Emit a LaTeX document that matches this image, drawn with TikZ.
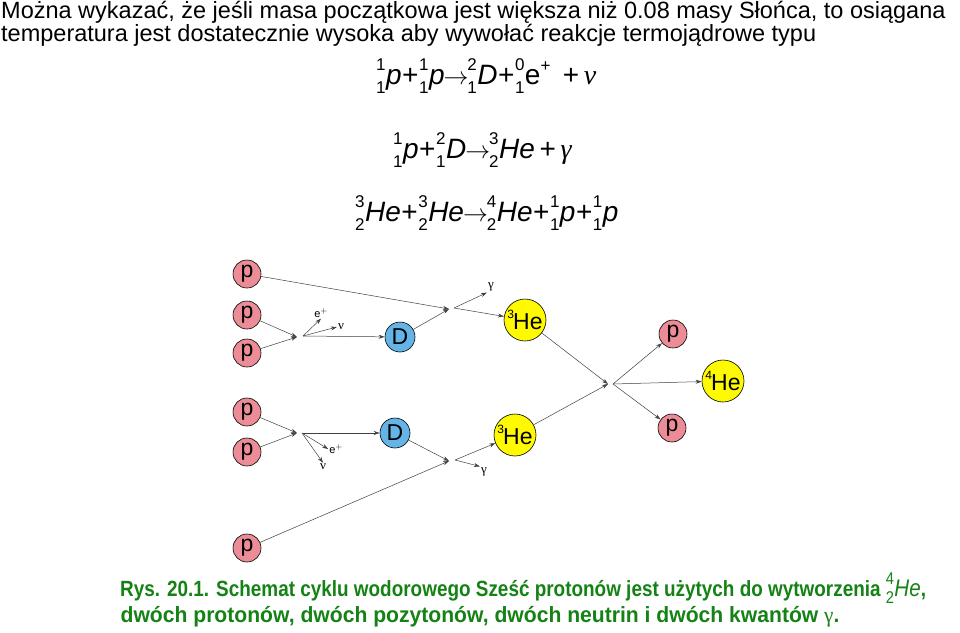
\documentclass[tikz,border=0pt]{standalone}
\usepackage{fontspec}
\setmainfont{Liberation Sans}
\newfontfamily\grk{Liberation Serif}
\usetikzlibrary{arrows.meta}
\definecolor{pc}{RGB}{236,140,150}
\definecolor{dc}{RGB}{100,180,232}
\definecolor{hc}{RGB}{255,250,0}
\definecolor{capc}{RGB}{20,130,20}
\newcommand\sm[1]{{\fontsize{17}{17}\selectfont #1}}
\newcommand\nuc[3]{\mbox{\rlap{\raisebox{0.5em}{\sm{#1}}}\raisebox{-0.32em}{\sm{#2}}}\kern0.5pt\textit{#3}}
\newcommand\pl{\kern0.5pt+\kern0.5pt}
\newcommand\arr{\kern-1pt$\rightarrow$\kern-1pt}
\begin{document}
\begin{tikzpicture}[x=1pt,y=-1pt,
  ball/.style={circle,draw,line width=0.6pt,inner sep=0pt,font=\fontsize{23}{23}\selectfont},
  pb/.style={ball,fill=pc,minimum size=28pt},
  db/.style={ball,fill=dc,minimum size=30pt},
  hb/.style={ball,fill=hc,minimum size=42pt},
  ar/.style={draw=black!75,line width=0.5pt,-{Stealth[length=6pt,width=4pt]}},
  lab/.style={font=\fontsize{13}{13}\selectfont\grk,inner sep=1pt},
  labs/.style={font=\fontsize{11}{11}\selectfont,inner sep=1pt},
  eq/.style={font=\fontsize{28}{28}\selectfont,inner sep=0pt}]
\useasboundingbox (0,0) rectangle (960,632);
\node[anchor=north west,inner sep=0pt,align=left,font=\fontsize{23.5}{23}\selectfont] (t) at (1,1)
 {Można wykazać, że jeśli masa początkowa jest większa niż 0.08 masy Słońca, to osiągana\\temperatura jest dostatecznie wysoka aby wywołać reakcje termojądrowe typu};
\node[eq,anchor=west] (e1) at (376,76) {\nuc11p\pl\nuc11p\arr\nuc21D\pl\mbox{\rlap{\raisebox{0.5em}{\sm{0}}}\raisebox{-0.32em}{\sm{1}}}\kern0.5pt e\raisebox{0.45em}{\sm{+}} \,+\,{\grk\itshape ν}};
\node[eq,anchor=west] (e2) at (393,150) {\nuc11p\pl\nuc21D\arr\nuc32{He}\,+\,{\grk\itshape γ}};
\node[eq,anchor=west] (e3) at (355,213) {\nuc32{He}\pl\nuc32{He}\arr\nuc42{He}\pl\nuc11p\pl\nuc11p};

\node[pb] (p1) at (247,274) {p};
\node[pb] (p2) at (247,315) {p};
\node[pb] (p3) at (247,353) {p};
\node[pb] (p4) at (247,412) {p};
\node[pb] (p5) at (247,452) {p};
\node[pb] (p6) at (247,548) {p};
\node[db] (d1) at (400,337) {D};
\node[db] (d2) at (395,433) {D};
\node[hb] (h1) at (525,320) {\raisebox{0.45em}{\fontsize{12}{12}\selectfont 3}\kern-1ptHe};
\node[hb] (h2) at (515,435) {\raisebox{0.45em}{\fontsize{12}{12}\selectfont 3}\kern-1ptHe};
\node[pb] (p7) at (673,334) {p};
\node[pb] (p8) at (672,428) {p};
\node[hb] (h4) at (723,381) {\raisebox{0.45em}{\fontsize{12}{12}\selectfont 4}\kern-1ptHe};

\coordinate (a1) at (297,337); \coordinate (a1o) at (303,336);
\coordinate (a2) at (297,433); \coordinate (a2o) at (302,433);
\coordinate (b1) at (449,309); \coordinate (b1o) at (454,308);
\coordinate (b2) at (449,461); \coordinate (b2o) at (455,460);
\coordinate (c) at (608,384); \coordinate (co) at (613,384);

\node[labs] (ep1) at (321,313) {e$^{+}$};
\node[lab] (n1) at (341,327) {ν};
\node[lab] (g1) at (491,287) {γ};
\node[labs] (ep2) at (336,449) {e$^{+}$};
\node[lab] (n2) at (323,467) {ν};
\node[lab] (g2) at (484,472) {γ};

\draw[ar] (p2) -- (a1); \draw[ar] (p3) -- (a1);
\draw[ar] (a1o) -- (ep1.south); \draw[ar] (a1o) -- (n1.west); \draw[ar] (a1o) -- (d1);
\draw[ar] (p4) -- (a2); \draw[ar] (p5) -- (a2);
\draw[ar] (a2o) -- (d2); \draw[ar] (a2o) -- (ep2.west); \draw[ar] (a2o) -- (n2.north);
\draw[ar] (p1) -- (b1); \draw[ar] (d1) -- (b1);
\draw[ar] (b1o) -- (g1.south west); \draw[ar] (b1o) -- (h1);
\draw[ar] (d2) -- (b2); \draw[ar] (p6) -- (b2);
\draw[ar] (b2o) -- (g2.north west); \draw[ar] (b2o) -- (h2);
\draw[ar] (h1) -- (c); \draw[ar] (h2) -- (c);
\draw[ar] (co) -- (p7); \draw[ar] (co) -- (h4); \draw[ar] (co) -- (p8);

\node[font=\bfseries\fontsize{22}{22}\selectfont,text=capc,xscale=0.86,inner sep=0pt,anchor=west] (cap1) at (120,588)
 {Rys. 20.1. Schemat cyklu wodorowego Sześć protonów jest użytych do wytworzenia \mdseries\fontsize{24}{24}\selectfont\nuc42{He}\bfseries\fontsize{22}{22}\selectfont,};
\node[font=\bfseries\fontsize{22}{22}\selectfont,text=capc,xscale=0.96,inner sep=0pt] (cap2) at (480,617)
 {dwóch protonów, dwóch pozytonów, dwóch neutrin i dwóch kwantów \mdseries{\grk γ}\bfseries.};
\end{tikzpicture}
\end{document}
